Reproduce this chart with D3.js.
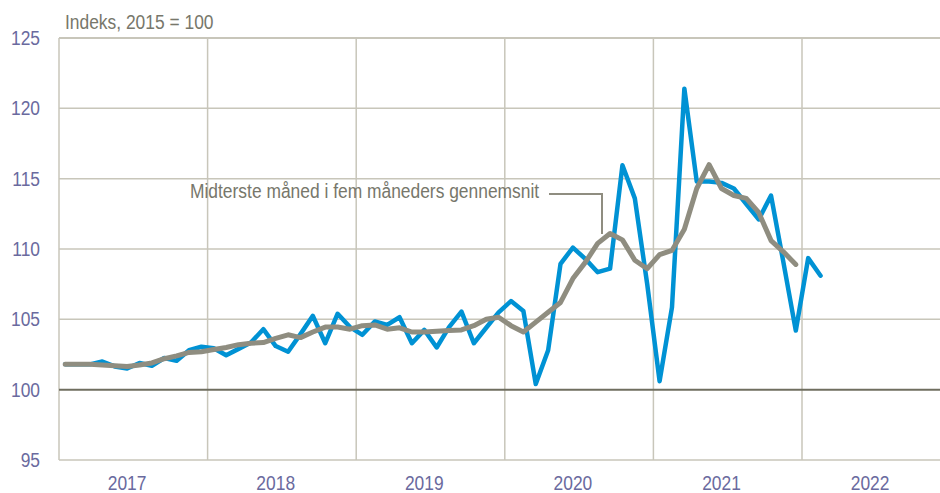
<!DOCTYPE html>
<html>
<head>
<meta charset="utf-8">
<script src="https://cdn.jsdelivr.net/npm/d3@7"></script>
<style>
  body { margin: 0; background: #fff; }
  svg { display: block; font-family: "Liberation Sans", Arial, sans-serif; }
</style>
</head>
<body>
<svg id="chart"></svg>
<script>
// monthly index, Jan 2017 - Feb 2022
const yearLabels = ["2017", "2018", "2019", "2020", "2021", "2022"]
const yTicks = [95, 100, 105, 110, 115, 120, 125]

const index = [
  101.8, 101.8, 101.8, 102.0, 101.65, 101.5, 101.9, 101.7, 102.25, 102.05, 102.8, 103.05,
  102.95, 102.45, 102.9, 103.35, 104.3, 103.1, 102.7, 103.95, 105.25, 103.3, 105.4, 104.45,
  103.9, 104.85, 104.6, 105.15, 103.3, 104.25, 103.0, 104.45, 105.55, 103.3, 104.4, 105.5,
  106.3, 105.6, 100.4, 102.8, 108.95, 110.1, 109.3, 108.35, 108.6, 115.95, 113.6, 107.5,
  100.6, 105.85, 121.4, 114.8, 114.8, 114.7, 114.3, 113.2, 112.1, 113.8, 109.05, 104.2,
  109.35, 108.1
]
// middle month of five-month average, Jan 2017 - Dec 2021
const centred = [
  101.8, 101.8, 101.8, 101.75, 101.7, 101.65, 101.75, 101.9, 102.2, 102.4, 102.65, 102.7,
  102.85, 103.0, 103.2, 103.3, 103.35, 103.65, 103.9, 103.7, 104.1, 104.45, 104.45, 104.3,
  104.55, 104.6, 104.3, 104.4, 104.1, 104.1, 104.15, 104.2, 104.25, 104.55, 105.0, 105.15,
  104.55, 104.1, 104.8, 105.5, 106.2, 107.9, 109.05, 110.4, 111.1, 110.65, 109.2, 108.6,
  109.6, 109.9, 111.4, 114.3, 116.0, 114.3, 113.8, 113.6, 112.6, 110.6, 109.8, 108.9
]

const width = 940
const height = 493
const plotLeft = 59, plotTop = 38, plotBottom = 460
const yearW = 148.6

const svg = d3.select("#chart").attr("width", width).attr("height", height)

// months counted from Jan 2017, points sit mid-month
const x = d3.scaleLinear().domain([0, 12 * 6]).range([plotLeft, plotLeft + 6 * yearW])
const y = d3.scaleLinear().domain([95, 125]).range([plotBottom, plotTop])

// the original uses a narrow face; squeeze the glyphs to match
function narrow(sel) {
  sel.each(function() {
    const w = this.getComputedTextLength()
    d3.select(this).attr("textLength", w * 0.87).attr("lengthAdjust", "spacingAndGlyphs")
  })
}

// horizontal grid
svg.append("g")
  .selectAll("line")
  .data(yTicks.filter(d => d !== 100))
  .join("line")
  .attr("x1", plotLeft).attr("x2", width)
  .attr("y1", d => y(d)).attr("y2", d => y(d))
  .attr("stroke", "#c8c6ba")
  .attr("stroke-width", d => d === 125 ? 2 : 1.5)

// vertical grid at year starts
svg.append("g")
  .selectAll("line")
  .data(d3.range(0, 6))
  .join("line")
  .attr("x1", d => x(d * 12)).attr("x2", d => x(d * 12))
  .attr("y1", plotTop).attr("y2", plotBottom)
  .attr("stroke", "#c8c6ba")
  .attr("stroke-width", 1.5)

// 100 baseline
svg.append("line")
  .attr("x1", plotLeft).attr("x2", width)
  .attr("y1", y(100)).attr("y2", y(100))
  .attr("stroke", "#6f6e5f")
  .attr("stroke-width", 2)

// y labels
svg.append("g")
  .selectAll("text")
  .data(yTicks)
  .join("text")
  .attr("x", 40)
  .attr("y", d => y(d))
  .attr("dy", "0.35em")
  .attr("text-anchor", "end")
  .attr("fill", "#6a6a9e")
  .style("font-size", "20px")
  .text(d => d)
  .call(narrow)

// year labels
svg.append("g")
  .selectAll("text")
  .data(yearLabels)
  .join("text")
  .attr("x", (d, i) => x(i * 12 + 5.5))
  .attr("y", 490)
  .attr("text-anchor", "middle")
  .attr("fill", "#6a6a9e")
  .style("font-size", "20px")
  .text(d => d)
  .call(narrow)

svg.append("text")
  .attr("x", 65).attr("y", 29)
  .attr("fill", "#77776b")
  .style("font-size", "20px")
  .text("Indeks, 2015 = 100")
  .call(narrow)

const line = d3.line()
  .x((d, i) => x(i + 0.5))
  .y(d => y(d))

svg.append("path")
  .datum(index)
  .attr("d", line)
  .attr("fill", "none")
  .attr("stroke", "#0092d4")
  .attr("stroke-width", 4.5)
  .attr("stroke-linejoin", "round")
  .attr("stroke-linecap", "round")

svg.append("path")
  .datum(centred)
  .attr("d", line)
  .attr("fill", "none")
  .attr("stroke", "#8f8d80")
  .attr("stroke-width", 5)
  .attr("stroke-linejoin", "round")
  .attr("stroke-linecap", "round")

// annotation
svg.append("text")
  .attr("x", 190).attr("y", 198)
  .attr("fill", "#77776b")
  .style("font-size", "20px")
  .text("Midterste måned i fem måneders gennemsnit")
  .call(narrow)

svg.append("path")
  .attr("d", "M549,194H602V234")
  .attr("fill", "none")
  .attr("stroke", "#8f8d80")
  .attr("stroke-width", 2)
</script>
</body>
</html>
